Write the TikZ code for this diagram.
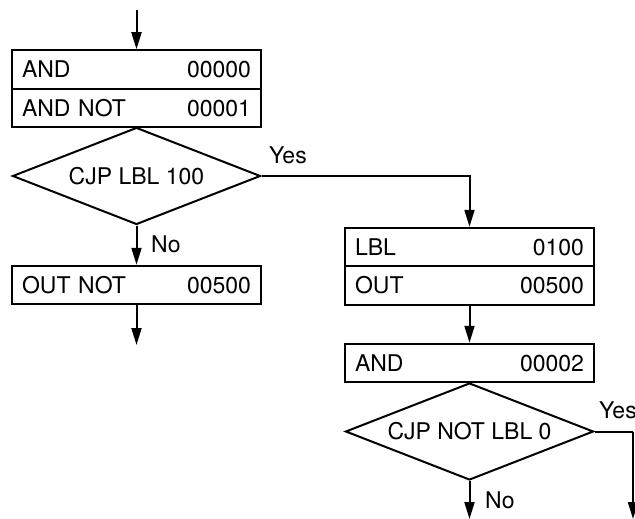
\documentclass[tikz,border=0pt]{standalone}
\usepackage{fontspec}
\setmainfont{TeX Gyre Heros}
\usetikzlibrary{shapes.geometric,arrows.meta}
\begin{document}
\begin{tikzpicture}[x=1pt,y=-1pt,
  every node/.style={font=\fontsize{23}{27}\selectfont},
  box/.style={draw,line width=2pt,rectangle,inner xsep=10pt,inner ysep=0pt,
    text width=229pt,minimum height=38.5pt,text height=16.5pt,text depth=0pt},
  dia/.style={draw,line width=2pt,diamond,aspect=2.56,inner sep=0pt,minimum width=248pt,
    minimum height=97pt,text height=16.5pt,text depth=0pt},
  conn/.style={line width=2pt},
  arr/.style={line width=2pt,-{Triangle[length=17pt,width=10pt]}},
  lab/.style={anchor=west,inner sep=0pt,text height=16.5pt,text depth=0pt}]
\useasboundingbox (0,0) rectangle (635,519);
\coordinate (start) at (136.5,10);
\node[box] (and0) at (136.5,69.5) {AND\hfill 00000};
\node[box] (andnot) at (136.5,108) {AND NOT\hfill 00001};
\node[dia] (cjp1) at (136.5,176) {CJP LBL 100};
\node[box] (outnot) at (136.5,285) {OUT NOT\hfill 00500};
\coordinate (end1) at (136.5,345);
\node[box] (lbl) at (469.5,247) {LBL\hfill 0100};
\node[box] (out) at (469.5,285.5) {OUT\hfill 00500};
\node[box] (and2) at (469.5,363) {AND\hfill 00002};
\node[dia] (cjp2) at (469.5,431.5) {CJP NOT LBL 0};
\coordinate (end2) at (469.5,519);
\coordinate (yescorner) at (633,431.5);
\coordinate (end3) at (633,519);
\node[lab] (yes1) at (269,155) {Yes};
\node[lab] (no1) at (151,244) {No};
\node[lab] (yes2) at (599,410) {Yes};
\node[lab] (no2) at (485,500) {No};
\draw[arr] (start) -- (and0.north);
\draw[arr] (cjp1.south) -- (outnot.north);
\draw[arr] (outnot.south) -- (end1);
\draw[arr] (cjp1.east) -| (lbl.north);
\draw[arr] (out.south) -- (and2.north);
\draw[arr] (cjp2.south) -- (end2);
\draw[conn] (cjp2.east) -- (yescorner);
\draw[arr] (yescorner) -- (end3);
\end{tikzpicture}
\end{document}
